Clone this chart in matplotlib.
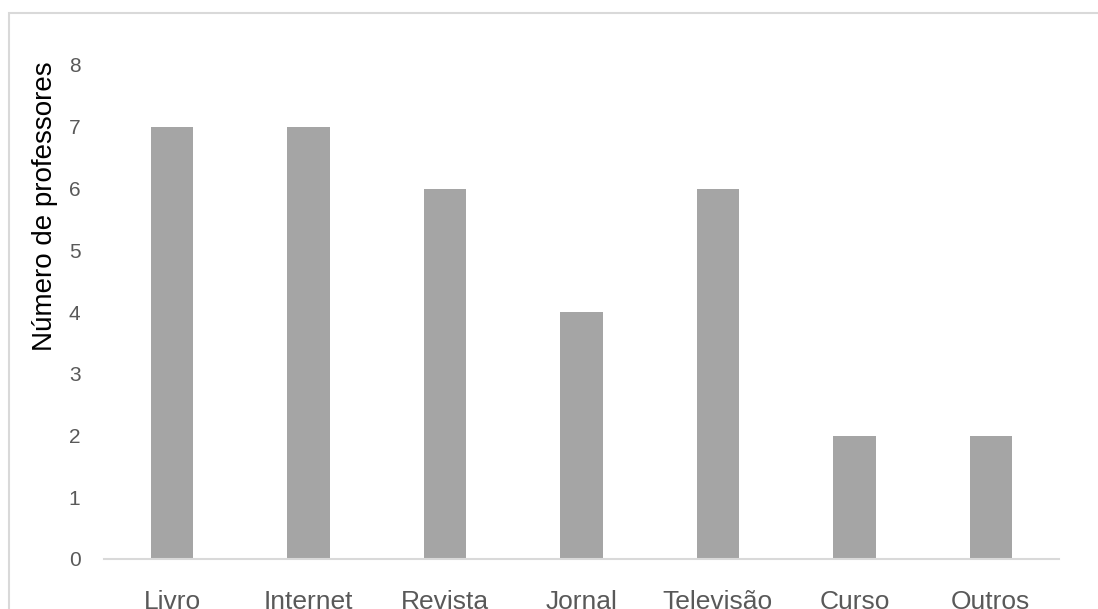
import matplotlib.pyplot as plt
from matplotlib.patches import Rectangle

# dados
categorias = ['Livro', 'Internet', 'Revista', 'Jornal', 'Televisão', 'Curso', 'Outros']
professores = [7, 7, 6, 4, 6, 2, 2]
yticks = [0, 1, 2, 3, 4, 5, 6, 7, 8]

plt.rcParams['font.family'] = ['Liberation Sans', 'DejaVu Sans']

fig = plt.figure(figsize=(10.98, 6.09), dpi=100)
ax = fig.add_axes([104 / 1098, 1 - 559 / 609, (1059 - 104) / 1098, (559 - 65) / 609])

# moldura cinza em volta do gráfico (cortada em baixo e à direita)
fig.patches.append(Rectangle((9 / 1098, -0.05), 1.1, 1 - 12.5 / 609 + 0.05,
                             transform=fig.transFigure, fill=False,
                             edgecolor='#D9D9D9', linewidth=1.5, zorder=0))

x = range(len(categorias))
ax.bar(x, professores, width=0.31, color='#A5A5A5', zorder=2)

ax.set_xlim(-0.5, len(categorias) - 0.5)
ax.set_ylim(0, 8)
ax.set_yticks(yticks)
ax.set_xticks(list(x))
ax.set_xticklabels(categorias)

for s in ['top', 'right', 'left']:
    ax.spines[s].set_visible(False)
ax.spines['bottom'].set_color('#D9D9D9')
ax.spines['bottom'].set_linewidth(1.5)

ax.tick_params(axis='y', length=0, pad=17, labelsize=15, labelcolor='#595959')
ax.tick_params(axis='x', length=0, pad=22, labelsize=19, labelcolor='#595959')
ax.set_ylabel('Número de professores', fontsize=20, color='black')
ax.yaxis.set_label_coords(-0.048, (559 - 206) / 494)

fig.savefig('out.png', dpi=100)
